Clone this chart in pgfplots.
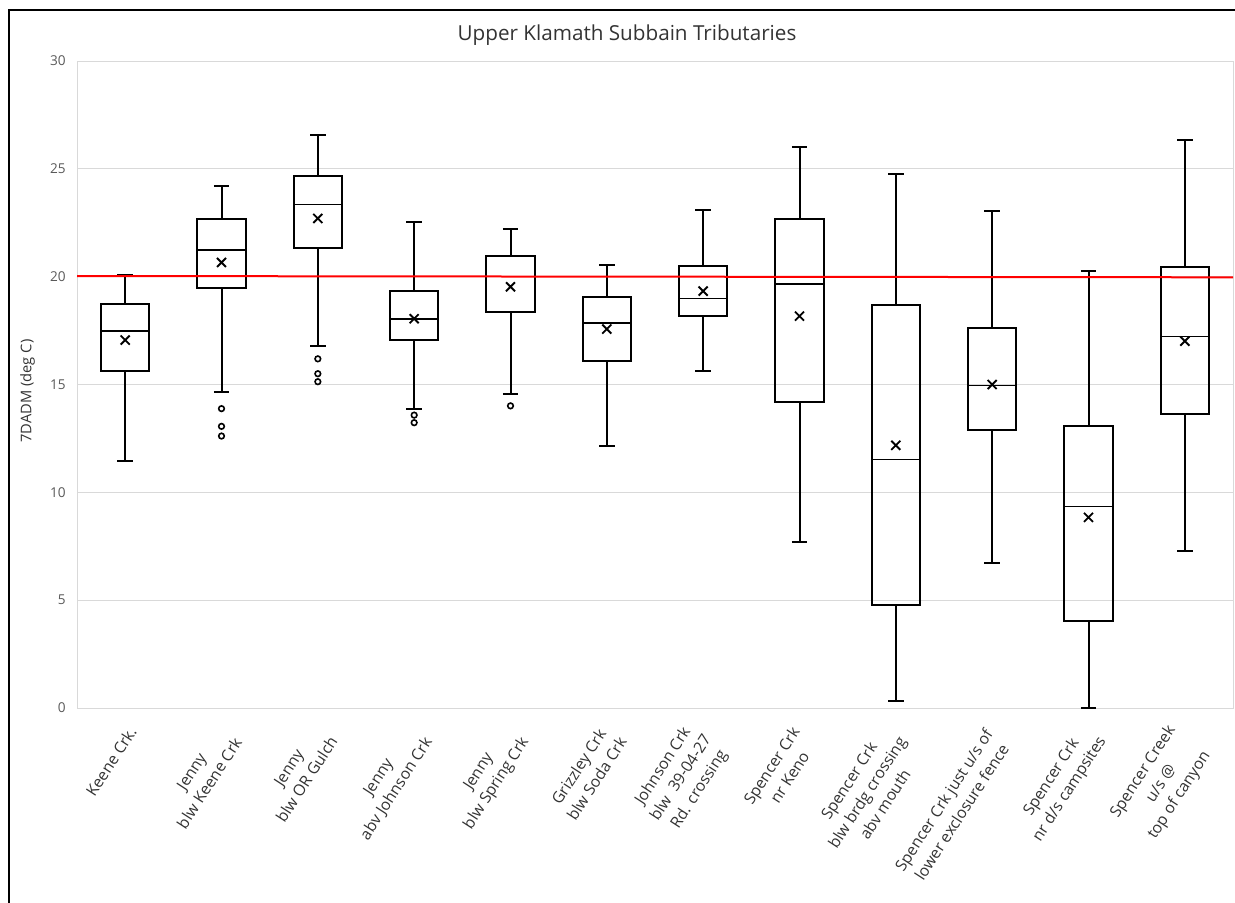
\documentclass[border=0pt]{standalone}
\usepackage{fontspec}
\setmainfont{Open Sans}
\usepackage{pgfplots}
\pgfplotsset{compat=1.18}
\usepgfplotslibrary{statistics}
\definecolor{gridgray}{HTML}{D9D9D9}
\definecolor{txt}{HTML}{333333}
\definecolor{ticktxt}{HTML}{595959}
\newcommand\bp[6]{\addplot[black, line width=1.5pt, boxplot prepared={draw direction=y, draw position=#1, lower whisker=#2, lower quartile=#3, median=#4, upper quartile=#5, upper whisker=#6, box extend=0.5, whisker extend=0.16}] coordinates {};}
\newcommand\bpo[7]{\addplot[black, line width=1.5pt, mark=o, mark options={solid, line width=1.2pt}, mark size=2.1pt, boxplot prepared={draw direction=y, draw position=#1, lower whisker=#2, lower quartile=#3, median=#4, upper quartile=#5, upper whisker=#6, box extend=0.5, whisker extend=0.16}] table[row sep=\\, y index=0] {#7};}
\tikzset{lab/.style={rotate=57, anchor=east, align=center, inner sep=0pt, text=txt, font=\fontsize{11.8}{16.1}\selectfont}}
\begin{document}
\begin{tikzpicture}
\useasboundingbox (0,0) rectangle (926.25pt,-677.25pt);
\draw[line width=1.5pt] (6.75pt,-690pt) -- (6.75pt,-7.5pt) -- (940pt,-7.5pt);
\node[anchor=base, text=txt, font=\fontsize{15.5}{18}\selectfont] at (470.25pt,-30pt) {Upper Klamath Subbain Tributaries};
\node[rotate=90, anchor=base, text=txt, font=\fontsize{11}{13}\selectfont] at (23.6pt,-293.25pt) {7DADM (deg C)};
\begin{axis}[at={(57.75pt,-531pt)}, anchor=south west, scale only axis,
  width=867pt, height=485.25pt,
  xmin=0.5, xmax=12.5, ymin=0, ymax=30,
  xtick=\empty, ytick={0,5,...,30},
  minor xtick={1.5,2.5,...,11.5},
  major tick length=0pt, minor tick length=0pt,
  xminorgrids, ymajorgrids,
  grid style={gridgray, line width=0.75pt},
  minor grid style={gridgray, line width=0.75pt},
  axis line style={gridgray, line width=0.75pt},
  /pgf/number format/assume math mode=true,
  yticklabel style={font=\fontsize{10.2}{12}\selectfont, text=ticktxt, inner sep=0pt, xshift=-8.25pt},
  boxplot/every median/.style={line width=1pt},
  clip=false,
]
\bp{1}{11.47}{15.64}{17.48}{18.74}{20.06}
\bpo{2}{14.65}{19.46}{21.23}{22.67}{24.20}{y\\13.88\\13.06\\12.61\\}
\bpo{3}{16.77}{21.31}{23.35}{24.66}{26.56}{y\\16.19\\15.50\\15.13\\}
\bpo{4}{13.86}{17.06}{18.03}{19.33}{22.55}{y\\13.58\\13.23\\}
\bpo{5}{14.54}{18.37}{20.00}{20.98}{22.19}{y\\14.01\\}
\bp{6}{12.15}{16.09}{17.85}{19.07}{20.54}
\bp{7}{15.62}{18.19}{18.99}{20.51}{23.11}
\bp{8}{7.68}{14.19}{19.66}{22.67}{25.99}
\bp{9}{0.32}{4.78}{11.51}{18.70}{24.76}
\bp{10}{6.74}{12.89}{14.96}{17.63}{23.03}
\bp{11}{0.00}{4.02}{9.35}{13.06}{20.26}
\bp{12}{7.29}{13.64}{17.23}{20.46}{26.35}
\addplot[only marks, mark=x, mark size=4.8pt, mark options={line width=1.4pt}, black] coordinates {
(1,17.06) (2,20.66) (3,22.70) (4,18.05) (5,19.53) (6,17.57)
(7,19.33) (8,18.17) (9,12.18) (10,15.00) (11,8.84) (12,17.01)};
\addplot[red, line width=1.5pt] coordinates {(0.5,20.03) (12.5,19.97)};
\end{axis}
\begin{scope}[x=0.75pt, y=-0.75pt]
\node[lab] at (132.7,728.3) {Keene Crk.};
\node[lab] at (229,733.4) {Jenny\\blw Keene Crk};
\node[lab] at (324.6,732.4) {Jenny\\blw OR Gulch};
\node[lab] at (420.3,733.4) {Jenny\\abv Johnson Crk};
\node[lab] at (517,733.4) {Jenny\\blw Spring Crk};
\node[lab] at (613.6,732.4) {Grizzley Crk\\blw Soda Crk};
\node[lab] at (708.3,736.7) {Johnson Crk\\blw~ 39-04-27\\Rd. crossing};
\node[lab] at (804.6,734.2) {Spencer Crk\\nr Keno};
\node[lab] at (901.9,738.3) {Spencer Crk\\blw brdg crossing\\abv mouth};
\node[lab] at (997.6,736.7) {Spencer Crk just u/s of\\lower exclosure fence};
\node[lab] at (1094,732.4) {Spencer Crk\\nr d/s campsites};
\node[lab] at (1190.3,739.2) {Spencer Creek\\u/s @\\top of canyon};
\end{scope}
\end{tikzpicture}
\end{document}
